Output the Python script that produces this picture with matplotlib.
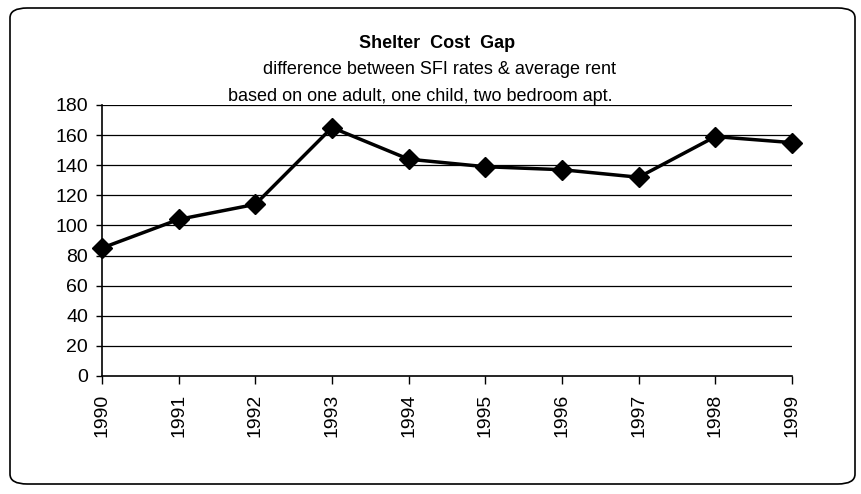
import matplotlib.pyplot as plt
from matplotlib.patches import FancyBboxPatch

years = ['1990', '1991', '1992', '1993', '1994', '1995', '1996', '1997', '1998', '1999']
gap = [85, 104, 114, 165, 144, 139, 137, 132, 159, 155]
yticks = [0, 20, 40, 60, 80, 100, 120, 140, 160, 180]

plt.rcParams['font.family'] = ['Liberation Sans', 'DejaVu Sans']

fig = plt.figure(figsize=(8.62, 4.94), dpi=100)
ax = fig.add_axes([0.1183, 0.2389, 0.8005, 0.5486])

x = list(range(len(years)))
ax.plot(x, gap, color='black', lw=2.5, marker='D', markersize=10, zorder=3,
        clip_on=False)

ax.set_xlim(0, len(years) - 1)
ax.set_ylim(0, 180)
ax.set_yticks(yticks)
ax.set_yticklabels([str(v) for v in yticks], fontsize=14)
ax.set_xticks(x)
ax.set_xticklabels(years, rotation=90, fontsize=14)
ax.tick_params(axis='y', length=4, width=1, pad=6)
ax.tick_params(axis='x', length=6, width=1, pad=7)
for v in yticks[1:]:
    ax.axhline(v, color='black', lw=0.9, zorder=1)
for s in ['top', 'right']:
    ax.spines[s].set_visible(False)
for s in ['left', 'bottom']:
    ax.spines[s].set_linewidth(1.2)

fig.text(0.507, 1 - 43 / 494, 'Shelter  Cost  Gap', ha='center', va='center',
         fontsize=13, fontweight='bold')
fig.text(0.510, 1 - 70 / 494, 'difference between SFI rates & average rent',
         ha='center', va='center', fontsize=13)
fig.text(0.488, 1 - 96 / 494, 'based on one adult, one child, two bedroom apt.',
         ha='center', va='center', fontsize=13)

border = FancyBboxPatch((10 / 862, 10 / 494), 845 / 862, 476 / 494,
                        boxstyle='round,pad=0,rounding_size=0.02',
                        transform=fig.transFigure, fill=False,
                        edgecolor='black', lw=1.2)
fig.patches.append(border)

fig.savefig('out.png', dpi=100)
